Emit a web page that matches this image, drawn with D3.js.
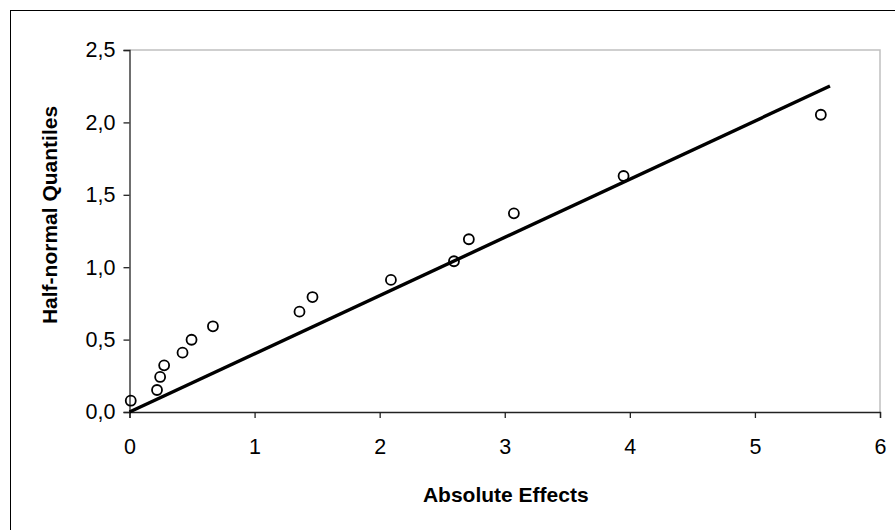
<!DOCTYPE html>
<html>
<head>
<meta charset="utf-8">
<script src="https://cdn.jsdelivr.net/npm/d3@7"></script>
<style>
  html, body { margin: 0; padding: 0; background: #fff; }
  svg { display: block; }
  text { font-family: "Liberation Sans", Arial, sans-serif; fill: #000; }
</style>
</head>
<body>
<svg id="chart" width="895" height="530"></svg>
<script>
// Absolute effects and their half-normal quantiles
const absEffects = [0.01, 0.22, 0.245, 0.277, 0.424, 0.496, 0.667, 1.359, 1.463, 2.09, 2.594, 2.713, 3.073, 3.95, 5.527];
const quantiles  = [0.078, 0.152, 0.242, 0.322, 0.41, 0.499, 0.592, 0.693, 0.794, 0.912, 1.041, 1.193, 1.372, 1.63, 2.053];

// Reference line through the origin
const lineX = [0, 5.6];
const lineY = [0, 2.251];

const xTicks = [0, 1, 2, 3, 4, 5, 6];
const yTicks = [0, 0.5, 1.0, 1.5, 2.0, 2.5];

const svg = d3.select("#chart");

// Outer chart frame
svg.append("rect")
  .attr("x", 10.5).attr("y", 10.5)
  .attr("width", 900).attr("height", 530)
  .attr("fill", "none").attr("stroke", "#000").attr("stroke-width", 1);

const plot = { left: 129.5, right: 880, top: 50, bottom: 412 };

const x = d3.scaleLinear().domain([0, 6]).range([plot.left, plot.right]);
const y = d3.scaleLinear().domain([0, 2.5]).range([plot.bottom, plot.top]);

// Plot area border (top and right in light gray)
svg.append("path")
  .attr("d", `M${plot.left},${plot.top}H${plot.right}V${plot.bottom}`)
  .attr("fill", "none").attr("stroke", "#c0c0c0").attr("stroke-width", 1.5);

const fmt = d => d3.format(".1f")(d).replace(".", ",");

// Y axis
const yAxis = svg.append("g")
  .attr("transform", `translate(${plot.left},0)`)
  .call(d3.axisLeft(y).tickValues(yTicks).tickFormat(fmt).tickSize(6).tickPadding(8));
// X axis
const xAxis = svg.append("g")
  .attr("transform", `translate(0,${plot.bottom})`)
  .call(d3.axisBottom(x).tickValues(xTicks).tickFormat(d3.format("d")).tickSize(6).tickPadding(21));

[yAxis, xAxis].forEach(g => {
  g.select(".domain").attr("stroke", "#222").attr("stroke-width", 1.3);
  g.selectAll(".tick line").attr("stroke", "#222").attr("stroke-width", 1.3);
  g.selectAll(".tick text")
    .attr("font-family", "'Liberation Sans', Arial, sans-serif")
    .attr("font-size", 21.5).attr("fill", "#000");
});

// Fitted line
svg.append("line")
  .attr("x1", x(lineX[0])).attr("y1", y(lineY[0]))
  .attr("x2", x(lineX[1])).attr("y2", y(lineY[1]))
  .attr("stroke", "#000").attr("stroke-width", 3.4);

// Points
svg.append("g").selectAll("circle")
  .data(absEffects.map((v, i) => [v, quantiles[i]]))
  .join("circle")
  .attr("cx", d => x(d[0])).attr("cy", d => y(d[1]))
  .attr("r", 5)
  .attr("fill", "none").attr("stroke", "#000").attr("stroke-width", 1.8);

// Axis titles
svg.append("text")
  .attr("x", (plot.left + plot.right) / 2 + 1).attr("y", 502)
  .attr("text-anchor", "middle")
  .attr("font-size", 21).attr("font-weight", "bold")
  .text("Absolute Effects");

svg.append("text")
  .attr("transform", `translate(57,215) rotate(-90)`)
  .attr("text-anchor", "middle")
  .attr("font-size", 21).attr("font-weight", "bold")
  .text("Half-normal Quantiles");
</script>
</body>
</html>
